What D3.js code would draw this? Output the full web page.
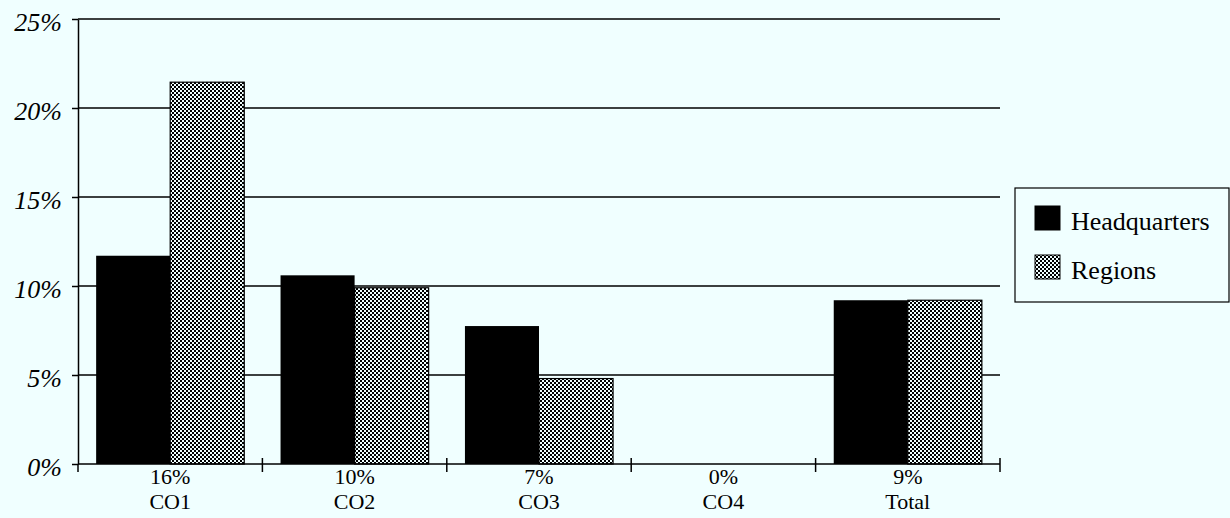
<!DOCTYPE html>
<html><head><meta charset="utf-8">
<script src="https://cdn.jsdelivr.net/npm/d3@7/dist/d3.min.js"></script>
<style>html,body{margin:0;padding:0;background:#f0ffff;}svg{display:block;}</style>
</head><body>
<svg id="c" width="1230" height="518"></svg>
<script>
const categories = ["CO1", "CO2", "CO3", "CO4", "Total"];
const totalLabels = ["16%", "10%", "7%", "0%", "9%"];
const seriesNames = ["Headquarters", "Regions"];
const headquarters = [11.7, 10.6, 7.75, 0, 9.2];
const regions = [21.45, 9.9, 4.8, 0, 9.2];
const yTicks = [0, 5, 10, 15, 20, 25];

const svg = d3.select("#c");
const L = 78, R = 1000, T = 19, B = 464;
const font = "'Liberation Serif','Times New Roman',serif";

const pat = svg.append("defs").append("pattern").attr("id","dots")
  .attr("patternUnits","userSpaceOnUse").attr("width",4).attr("height",4);
pat.append("rect").attr("width",4).attr("height",4).attr("fill","#f0ffff");
pat.append("rect").attr("x",0).attr("y",0).attr("width",2).attr("height",2).attr("fill","#000");
pat.append("rect").attr("x",2).attr("y",2).attr("width",2).attr("height",2).attr("fill","#000");

const y = d3.scaleLinear().domain([0,25]).range([B,T]);
const x0 = d3.scaleBand().domain(categories).range([L,R]).padding(0);
const x1 = d3.scaleBand().domain(seriesNames).range([0,x0.bandwidth()]).paddingInner(0).paddingOuter(0.245);

// gridlines
svg.append("g").selectAll("line").data(yTicks.filter(d=>d>0)).join("line")
  .attr("x1",L).attr("x2",R).attr("y1",d=>y(d)).attr("y2",d=>y(d))
  .attr("stroke","#000").attr("stroke-width",1.5);

// bars
const data = categories.map((c,i)=>({c, vals:[headquarters[i], regions[i]]}));
const g = svg.append("g");
data.forEach(d=>{
  d.vals.forEach((v,j)=>{
    if (v<=0) return;
    g.append("rect")
      .attr("x", x0(d.c)+x1(seriesNames[j]))
      .attr("y", y(v))
      .attr("width", x1.bandwidth())
      .attr("height", y(0)-y(v))
      .attr("fill", j===0 ? "#000" : "url(#dots)")
      .attr("stroke","#000").attr("stroke-width", j===0?0:1.2);
  });
});

// y axis
const yAxis = d3.axisLeft(y).tickValues(yTicks).tickFormat(d=>d+"%").tickSize(6).tickSizeOuter(0).tickPadding(10);
const ya = svg.append("g").attr("transform",`translate(${L},0)`).call(yAxis);
ya.select(".domain").attr("stroke","#000").attr("stroke-width",1.5);
ya.selectAll(".tick line").attr("stroke","#000").attr("stroke-width",1.5);
ya.selectAll(".tick text").attr("font-family",font).attr("font-size",26).attr("font-style","italic")
  .attr("fill","#000").attr("dy","0.45em");

// x axis
svg.append("line").attr("x1",L).attr("x2",R).attr("y1",B).attr("y2",B).attr("stroke","#000").attr("stroke-width",1.5);
const bounds = categories.map(c=>x0(c)).concat([R]);
svg.append("g").selectAll("line").data(bounds).join("line")
  .attr("x1",d=>d).attr("x2",d=>d)
  .attr("y1",(d,i)=> i===0 ? B : B-6).attr("y2",B+8)
  .attr("stroke","#000").attr("stroke-width",1.5);

const cx = d => x0(d)+x0.bandwidth()/2;
svg.append("g").selectAll("text").data(categories).join("text")
  .attr("x",cx).attr("y",484).attr("text-anchor","middle")
  .attr("font-family",font).attr("font-size",22).attr("fill","#000")
  .text((d,i)=>totalLabels[i]);
svg.append("g").selectAll("text").data(categories).join("text")
  .attr("x",cx).attr("y",509).attr("text-anchor","middle")
  .attr("font-family",font).attr("font-size",22).attr("fill","#000")
  .text(d=>d);

// legend
const lg = svg.append("g");
lg.append("rect").attr("x",1015).attr("y",188).attr("width",214).attr("height",114)
  .attr("fill","#f0ffff").attr("stroke","#000").attr("stroke-width",1.2);
seriesNames.forEach((s,i)=>{
  const yy = 206 + i*49;
  lg.append("rect").attr("x",1035).attr("y",yy).attr("width",25).attr("height",24)
    .attr("fill", i===0?"#000":"url(#dots)").attr("stroke","#000").attr("stroke-width",1);
  lg.append("text").attr("x",1071).attr("y",yy+24).attr("font-family",font).attr("font-size",26)
    .attr("fill","#000").text(s);
});
</script>
</body></html>
